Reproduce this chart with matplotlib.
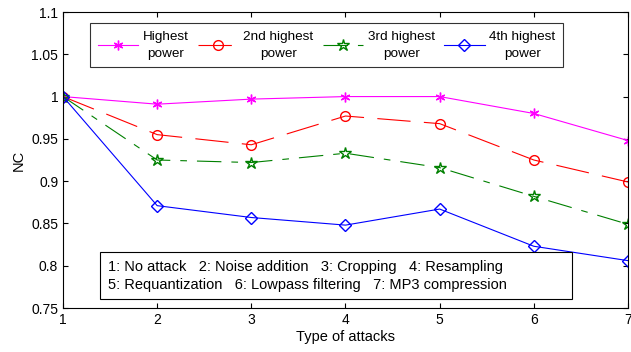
import matplotlib
matplotlib.use("Agg")
import matplotlib.pyplot as plt
from matplotlib.patches import Rectangle

plt.rcParams['font.family'] = ['Liberation Sans', 'DejaVu Sans']

x = [1, 2, 3, 4, 5, 6, 7]
highest = [1.0, 0.991, 0.997, 1.0, 1.0, 0.980, 0.948]
second = [1.0, 0.955, 0.943, 0.977, 0.968, 0.925, 0.899]
third = [1.0, 0.925, 0.922, 0.933, 0.916, 0.882, 0.849]
fourth = [1.0, 0.871, 0.857, 0.848, 0.867, 0.823, 0.806]
labels = ['Highest\npower', '2nd highest\npower', '3rd highest\npower', '4th highest\npower']
yticks = [0.75, 0.8, 0.85, 0.9, 0.95, 1, 1.05, 1.1]
ytlabels = ['0.75', '0.8', '0.85', '0.9', '0.95', '1', '1.05', '1.1']
note1 = "1: No attack   2: Noise addition   3: Cropping   4: Resampling"
note2 = "5: Requantization   6: Lowpass filtering   7: MP3 compression"

fig = plt.figure(figsize=(6.31, 3.52), dpi=100)
ax = fig.add_axes([63/631, 1-308/352, (628-63)/631, (308-12)/352])

ax.plot(x, highest, color='#ff00ff', ls='-', lw=0.8, marker=(6, 2, 0), ms=7, mew=1.0, label=labels[0])
ax.plot(x, second, color='#ff0000', ls=(0, (30, 12)), lw=0.8, marker='o', ms=7, mfc='none', label=labels[1])
ax.plot(x, third, color='#008000', ls=(0, (22, 9, 6, 9)), lw=0.8, marker='*', ms=9, mfc='none', label=labels[2])
ax.plot(x, fourth, color='#0000ff', ls='-', lw=0.8, marker='D', ms=6, mfc='none', label=labels[3])

ax.set_xlim(1, 7)
ax.set_ylim(0.75, 1.1)
ax.set_xticks(x)
ax.set_yticks(yticks)
ax.set_yticklabels(ytlabels)
ax.tick_params(direction='in', top=True, right=True, labelsize=10, length=3.5)
ax.set_xlabel('Type of attacks', fontsize=10.5, labelpad=2)
ax.set_ylabel('NC', fontsize=10.5)
for s in ax.spines.values():
    s.set_linewidth(0.8)

leg = ax.legend(loc='upper left', ncol=4, fontsize=9.7, frameon=True, fancybox=False,
                edgecolor='black', bbox_to_anchor=(0.048, 0.962), borderaxespad=0,
                handlelength=3.0, columnspacing=0.7, borderpad=0.55, handletextpad=0.35)
leg.get_frame().set_linewidth(0.8)
for t in leg.get_texts():
    t.set_multialignment('center')
    t.set_linespacing(1.6)

ax.add_patch(Rectangle((0.0655, 0.0304), 0.901 - 0.0655, 0.189 - 0.0304,
                       transform=ax.transAxes, fc='white', ec='black', lw=0.8, zorder=5))
ax.text(0.0797, 0.138, note1, transform=ax.transAxes, fontsize=10.5, va='center', ha='left', zorder=6)
ax.text(0.0797, 0.078, note2, transform=ax.transAxes, fontsize=10.5, va='center', ha='left', zorder=6)

fig.savefig('out.png', dpi=100)
